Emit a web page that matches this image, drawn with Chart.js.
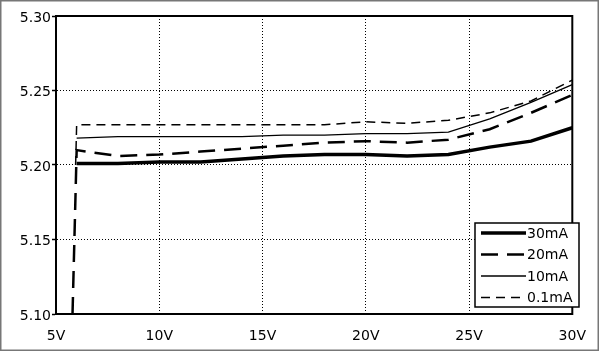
<!DOCTYPE html>
<html>
<head>
<meta charset="utf-8">
<script src="https://cdn.jsdelivr.net/npm/chart.js@4/dist/chart.umd.min.js"></script>
<style>
html,body{margin:0;padding:0;background:#fff;}
#wrap{position:absolute;left:0;top:0;width:600px;height:352px;}
</style>
</head>
<body>
<div id="wrap"><canvas id="c" width="600" height="352"></canvas></div>
<script>
// ---- data ----
const voltages = [6, 8, 10, 12, 14, 16, 18, 20, 22, 24, 26, 28, 30];
const seriesLabels = ['30mA', '20mA', '10mA', '0.1mA'];
const v30mA  = [5.201, 5.201, 5.202, 5.202, 5.204, 5.206, 5.207, 5.207, 5.206, 5.207, 5.212, 5.216, 5.225];
const v20mA  = [5.210, 5.206, 5.207, 5.209, 5.211, 5.213, 5.215, 5.216, 5.215, 5.217, 5.224, 5.235, 5.247];
const v10mA  = [5.218, 5.219, 5.219, 5.219, 5.219, 5.220, 5.220, 5.221, 5.221, 5.222, 5.231, 5.242, 5.254];
const v01mA  = [5.227, 5.227, 5.227, 5.227, 5.227, 5.227, 5.227, 5.229, 5.228, 5.230, 5.235, 5.243, 5.257];
// start-up points (vertical rise at turn-on)
const start20mA = {v: 5.8, out: 5.10};
const start01mA = {v: 5.95, out: 5.20};
const xTickValues = [5, 10, 15, 20, 25, 30];
const xTickLabels = ['5V', '10V', '15V', '20V', '25V', '30V'];
const yTickLabels = ['5.10', '5.15', '5.20', '5.25', '5.30'];

function pts(vals, start) {
  const arr = voltages.map((v, i) => ({x: v, y: vals[i]}));
  if (start) arr.unshift({x: start.v, y: start.out});
  return arr;
}

const FONT = "'DejaVu Sans', sans-serif";

const framePlugin = {
  id: 'frame',
  beforeDraw(chart) {
    const ctx = chart.ctx;
    ctx.save();
    ctx.fillStyle = '#fff';
    ctx.fillRect(0, 0, chart.width, chart.height);
    ctx.strokeStyle = '#777';
    ctx.lineWidth = 1.5;
    ctx.strokeRect(0.75, 0.75, 597.5, 349.5);
    ctx.restore();
  },
  afterDatasetsDraw(chart) {
    const ctx = chart.ctx, a = chart.chartArea;
    ctx.save();
    ctx.strokeStyle = '#000';
    ctx.lineWidth = 2;
    ctx.strokeRect(a.left, a.top, a.right - a.left, a.bottom - a.top);
    // legend
    const bx = 475, by = 223, bw = 104, bh = 84;
    ctx.fillStyle = '#fff';
    ctx.fillRect(bx, by, bw, bh);
    ctx.lineWidth = 1.5;
    ctx.strokeStyle = '#000';
    ctx.strokeRect(bx, by, bw, bh);
    const rows = [233, 254.5, 276, 297.5];
    chart.data.datasets.forEach((ds, i) => {
      const y = rows[i];
      ctx.beginPath();
      ctx.setLineDash(ds.borderDash || []);
      ctx.lineWidth = ds.borderWidth;
      ctx.strokeStyle = ds.borderColor;
      ctx.moveTo(481, y);
      ctx.lineTo(526, y);
      ctx.stroke();
      ctx.setLineDash([]);
      ctx.fillStyle = '#000';
      ctx.font = '14px ' + FONT;
      ctx.textBaseline = 'middle';
      ctx.textAlign = 'left';
      ctx.fillText(ds.label, 527, y + 1);
    });
    ctx.restore();
  }
};

new Chart(document.getElementById('c'), {
  type: 'line',
  data: {
    datasets: [
      {label: seriesLabels[0], data: pts(v30mA), borderColor: '#000', borderWidth: 3.5, borderDash: []},
      {label: seriesLabels[1], data: pts(v20mA, start20mA), borderColor: '#000', borderWidth: 2.5, borderDash: [17, 9]},
      {label: seriesLabels[2], data: pts(v10mA), borderColor: '#000', borderWidth: 1.3, borderDash: []},
      {label: seriesLabels[3], data: pts(v01mA, start01mA), borderColor: '#000', borderWidth: 1.5, borderDash: [9, 6]}
    ]
  },
  options: {
    responsive: false,
    animation: false,
    devicePixelRatio: 1,
    parsing: true,
    elements: {point: {radius: 0}, line: {tension: 0, fill: false, borderCapStyle: 'butt'}},
    layout: {padding: {left: 0, right: 17, top: 16, bottom: 0}},
    plugins: {legend: {display: false}, tooltip: {enabled: false}},
    scales: {
      x: {
        type: 'linear', min: 5, max: 30,
        afterFit(s) { s.height = 38; },
        afterBuildTicks(s) { s.ticks = xTickValues.map(v => ({value: v})); },
        ticks: {
          color: '#000', font: {family: FONT, size: 14}, padding: 14, maxRotation: 0, autoSkip: false,
          callback: (v) => xTickLabels[xTickValues.indexOf(v)]
        },
        grid: {color: '#000', lineWidth: 1, drawTicks: false},
        border: {display: true, color: '#000', width: 2, dash: [1, 2]}
      },
      y: {
        type: 'linear', min: 5.10, max: 5.30,
        afterFit(s) { s.width = 56; },
        afterBuildTicks(s) { s.ticks = yTickLabels.map(t => ({value: parseFloat(t)})); },
        ticks: {
          color: '#000', font: {family: FONT, size: 14}, padding: 1, autoSkip: false, labelOffset: 2,
          callback: (v) => yTickLabels.find(t => Math.abs(parseFloat(t) - v) < 1e-6)
        },
        grid: {color: '#000', lineWidth: 1, drawTicks: true, tickLength: 4, tickColor: '#000', tickWidth: 1.5, tickBorderDash: []},
        border: {display: true, color: '#000', width: 2, dash: [1, 2]}
      }
    }
  },
  plugins: [framePlugin]
});
</script>
</body>
</html>
